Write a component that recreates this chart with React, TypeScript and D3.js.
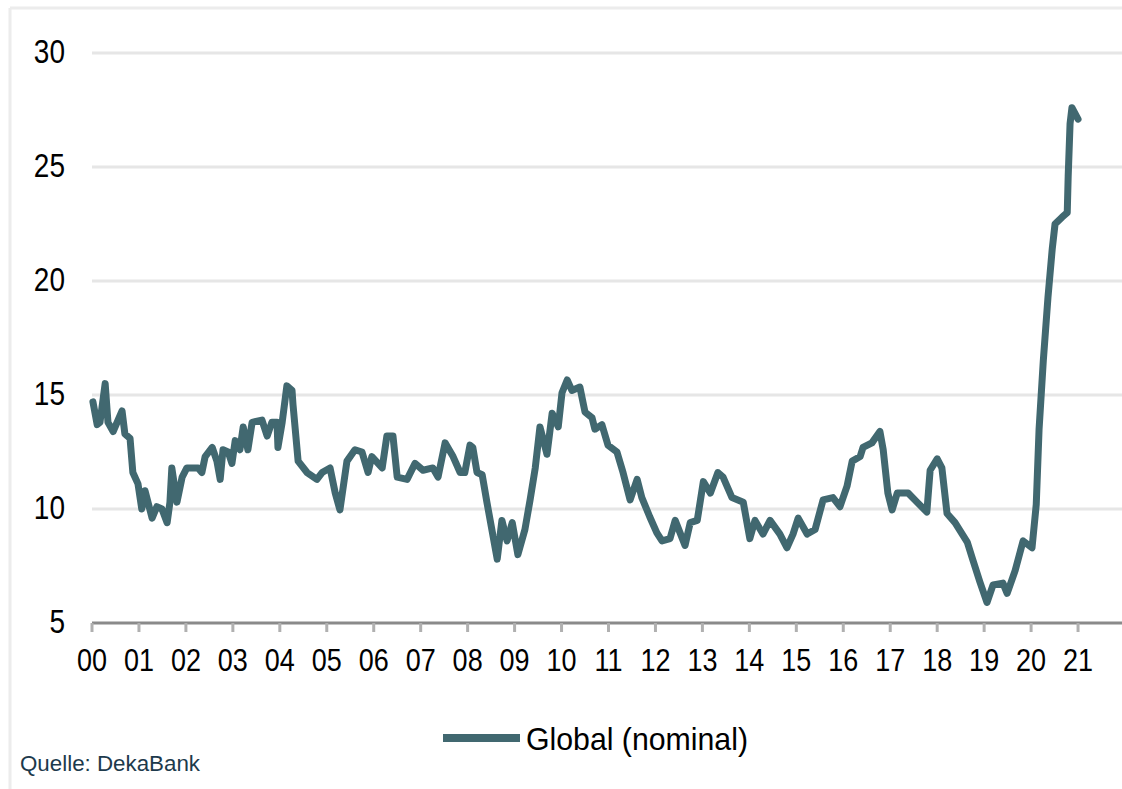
import React from "react";
import * as d3 from "d3";

// Fractional years since 2000
const years: number[] = [
  0.02, 0.11, 0.17, 0.28, 0.34, 0.45, 0.64, 0.70, 0.81, 0.87, 0.98,
  1.06, 1.13, 1.28, 1.38, 1.49, 1.60, 1.66, 1.70, 1.81, 1.92,
  2.02, 2.26, 2.34, 2.41, 2.56, 2.66, 2.73, 2.79, 2.90, 2.98,
  3.05, 3.15, 3.22, 3.32, 3.41, 3.62, 3.73, 3.83, 3.94, 3.96,
  4.05, 4.15, 4.26, 4.28, 4.39, 4.58, 4.79, 4.90,
  5.07, 5.18, 5.28, 5.43, 5.60, 5.75, 5.88, 5.96,
  6.18, 6.28, 6.41, 6.50, 6.71, 6.88,
  7.05, 7.26, 7.37, 7.52, 7.69, 7.84, 7.94,
  8.05, 8.11, 8.20, 8.31, 8.41, 8.63, 8.73, 8.84, 8.95,
  9.07, 9.22, 9.33, 9.44, 9.54, 9.69, 9.80, 9.93,
  10.01, 10.12, 10.22, 10.39, 10.50, 10.65, 10.71, 10.86, 10.99,
  11.18, 11.31, 11.46, 11.61, 11.71, 11.88,
  12.03, 12.14, 12.31, 12.42, 12.63, 12.74, 12.89,
  13.02, 13.17, 13.33, 13.44, 13.63, 13.87,
  14.01, 14.12, 14.29, 14.44, 14.65, 14.80, 14.93,
  15.04, 15.23, 15.40, 15.57, 15.78, 15.93,
  16.08, 16.19, 16.36, 16.42, 16.61, 16.78, 16.85, 16.95,
  17.04, 17.15, 17.38, 17.57, 17.78, 17.85,
  18.00, 18.10, 18.21, 18.38, 18.64, 18.76, 18.91,
  19.06, 19.19, 19.40, 19.49, 19.66, 19.83,
  20.02, 20.11, 20.17, 20.26, 20.36, 20.45, 20.51, 20.66, 20.77, 20.79, 20.83, 20.87,
  21.00,
];

const values: number[] = [
  14.7, 13.7, 13.8, 15.5, 13.8, 13.4, 14.3, 13.3, 13.1, 11.6, 11.1,
  10.0, 10.8, 9.6, 10.1, 10.0, 9.4, 10.3, 11.8, 10.3, 11.4,
  11.8, 11.8, 11.6, 12.3, 12.7, 12.1, 11.3, 12.6, 12.5, 12.0,
  13.0, 12.6, 13.6, 12.6, 13.8, 13.9, 13.2, 13.8, 13.8, 12.7,
  13.8, 15.4, 15.2, 14.6, 12.1, 11.6, 11.3, 11.6,
  11.8, 10.7, 9.96, 12.1, 12.6, 12.5, 11.6, 12.3,
  11.8, 13.2, 13.2, 11.4, 11.3, 12.0,
  11.7, 11.8, 11.4, 12.9, 12.3, 11.6, 11.6,
  12.8, 12.7, 11.6, 11.5, 10.3, 7.8, 9.5, 8.6, 9.4,
  8.0, 9.1, 10.4, 11.8, 13.6, 12.4, 14.2, 13.6,
  15.1, 15.66, 15.2, 15.35, 14.25, 14.0, 13.5, 13.7, 12.8,
  12.5, 11.6, 10.4, 11.3, 10.5, 9.65,
  8.95, 8.6, 8.7, 9.5, 8.4, 9.4, 9.5,
  11.2, 10.7, 11.6, 11.4, 10.5, 10.3,
  8.7, 9.5, 8.9, 9.5, 8.9, 8.3, 8.9,
  9.6, 8.9, 9.1, 10.4, 10.5, 10.1,
  11.0, 12.1, 12.3, 12.7, 12.9, 13.4, 12.6, 10.7,
  9.96, 10.7, 10.7, 10.3, 9.87, 11.7,
  12.2, 11.8, 9.8, 9.4, 8.55, 7.76, 6.8,
  5.9, 6.67, 6.75, 6.3, 7.3, 8.6,
  8.3, 10.2, 13.5, 16.5, 19.3, 21.4, 22.5, 22.8, 23.0, 24.6, 26.9, 27.6,
  27.1,
];

const yTicks: number[] = [5, 10, 15, 20, 25, 30];
const xTickYears: number[] = d3.range(0, 22);
const xTickLabels: string[] = xTickYears.map((y) => String(y).padStart(2, "0"));
const seriesName = "Global (nominal)";
const sourceText = "Quelle: DekaBank";

const W = 1122;
const H = 789;
const LINE = "#416870";
const FONT = "'Liberation Sans', Arial, sans-serif";

export default function App() {
  const x = d3.scaleLinear().domain([0, 22]).range([92, 1125]);
  const y = d3.scaleLinear().domain([5, 30]).range([623, 53]);
  const pts = years.map((t, i) => [t, values[i]] as [number, number]);
  const line = d3
    .line<[number, number]>()
    .x((d) => x(d[0]))
    .y((d) => y(d[1]));

  return (
    <svg
      width={W}
      height={H}
      style={{ position: "absolute", left: 0, top: 0, background: "#fff" }}
    >
      <rect x={0} y={0} width={W} height={H} fill="#fff" />
      {/* frame */}
      <line x1={10} y1={8} x2={W} y2={8} stroke="#ececec" strokeWidth={3} />
      <line x1={10} y1={8} x2={10} y2={H} stroke="#ececec" strokeWidth={3} />

      {/* gridlines */}
      {yTicks
        .filter((v) => v > 5)
        .map((v) => (
          <line
            key={"g" + v}
            x1={92}
            x2={W}
            y1={y(v)}
            y2={y(v)}
            stroke="#e6e6e6"
            strokeWidth={3}
          />
        ))}

      {/* y labels */}
      {yTicks.map((v) => (
        <text
          key={"yl" + v}
          transform={`translate(65,${y(v) + 10}) scale(1,1.18)`}
          textAnchor="end"
          fontFamily={FONT}
          fontSize={28}
          fill="#000"
        >
          {v}
        </text>
      ))}

      {/* x axis */}
      <line x1={92} x2={W} y1={y(5)} y2={y(5)} stroke="#8a8a8a" strokeWidth={3} />
      {xTickYears.map((t) => (
        <line
          key={"xt" + t}
          x1={x(t)}
          x2={x(t)}
          y1={y(5)}
          y2={y(5) + 9}
          stroke="#b0b0b0"
          strokeWidth={3}
        />
      ))}
      {xTickYears.map((t, i) => (
        <text
          key={"xl" + t}
          transform={`translate(${x(t)},671) scale(1,1.18)`}
          textAnchor="middle"
          fontFamily={FONT}
          fontSize={27}
          fill="#000"
        >
          {xTickLabels[i]}
        </text>
      ))}

      {/* series */}
      <path
        d={line(pts) || ""}
        fill="none"
        stroke={LINE}
        strokeWidth={7}
        strokeLinejoin="round"
        strokeLinecap="round"
      />

      {/* legend */}
      <line x1={443} x2={520} y1={738} y2={738} stroke={LINE} strokeWidth={8} />
      <text
        transform="translate(526,750) scale(1,1.18)"
        fontFamily={FONT}
        fontSize={27}
        textLength={222}
        lengthAdjust="spacingAndGlyphs"
        fill="#000"
      >
        {seriesName}
      </text>

      {/* source */}
      <text
        transform="translate(20,771) scale(1,1.2)"
        fontFamily={FONT}
        fontSize={19}
        textLength={180}
        lengthAdjust="spacingAndGlyphs"
        fill="#1d3a4c"
      >
        {sourceText}
      </text>
    </svg>
  );
}
